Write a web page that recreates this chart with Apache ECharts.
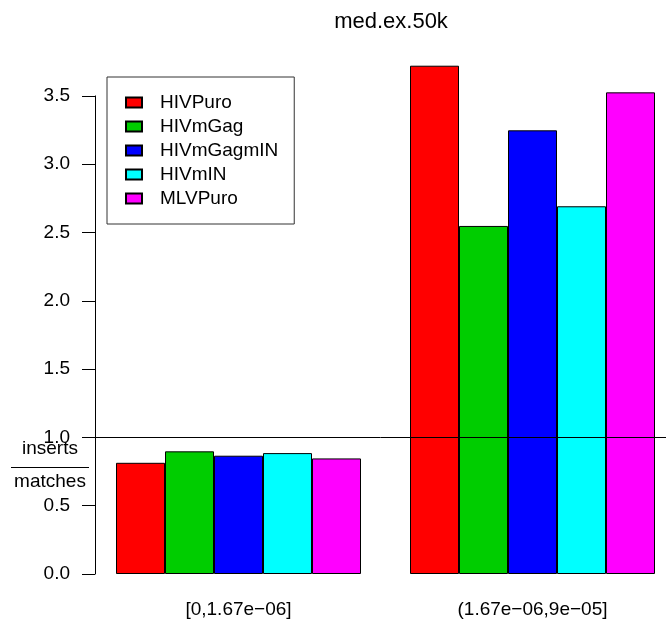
<!DOCTYPE html>
<html>
<head>
<meta charset="utf-8">
<script src="https://cdn.jsdelivr.net/npm/echarts@6/dist/echarts.min.js"></script>
<style>html,body{margin:0;padding:0;background:#fff;}#c{width:666px;height:627px;}</style>
</head>
<body>
<div id="c"></div>
<script>
var categories = ['[0,1.67e\u221206]', '(1.67e\u221206,9e\u221205]'];
var seriesNames = ['HIVPuro', 'HIVmGag', 'HIVmGagmIN', 'HIVmIN', 'MLVPuro'];
var seriesColors = ['#FF0000', '#00CD00', '#0000FF', '#00FFFF', '#FF00FF'];
var HIVPuro = [0.814, 3.721];
var HIVmGag = [0.898, 2.548];
var HIVmGagmIN = [0.866, 3.248];
var HIVmIN = [0.885, 2.692];
var MLVPuro = [0.846, 3.526];
var seriesValues = [HIVPuro, HIVmGag, HIVmGagmIN, HIVmIN, MLVPuro];
var yTicks = [0, 0.5, 1.0, 1.5, 2.0, 2.5, 3.0, 3.5];
var refLine = 1.0;
var chartTitle = 'med.ex.50k';

var FONT = '"Liberation Sans", Arial, Helvetica, sans-serif';
var k = 136.6;       // px per unit
var zeroY = 574;
var yMaxAxis = yTicks[yTicks.length - 1];
var yMaxMain = 4;

var chart = echarts.init(document.getElementById('c'), null, {renderer: 'canvas'});

var series = seriesNames.map(function (n, i) {
  return {
    name: n,
    type: 'bar',
    xAxisIndex: 0,
    yAxisIndex: 0,
    data: seriesValues[i],
    barWidth: 49,
    barGap: '0%',
    clip: false,
    itemStyle: {color: seriesColors[i], borderColor: '#000', borderWidth: 1},
    emphasis: {disabled: true}
  };
});
// reference line at 1.0, drawn across the full plot region (axis grid)
series.push({
  type: 'line',
  xAxisIndex: 1,
  yAxisIndex: 1,
  data: [],
  silent: true,
  markLine: {
    silent: true,
    symbol: ['none', 'none'],
    label: {show: false},
    lineStyle: {color: '#000', width: 1, type: 'solid'},
    data: [{yAxis: refLine}]
  }
});

var option = {
  animation: false,
  backgroundColor: '#fff',
  textStyle: {fontFamily: FONT},
  title: {
    text: chartTitle,
    left: 386,
    top: 6,
    textAlign: 'center',
    textStyle: {fontFamily: FONT, fontSize: 22, fontWeight: 'normal', color: '#000'}
  },
  legend: {
    orient: 'vertical',
    left: 107,
    top: 77,
    padding: [16, 16, 16, 18],
    itemWidth: 16,
    itemHeight: 10,
    itemGap: 5,
    icon: 'rect',
    borderColor: '#333',
    borderWidth: 1,
    selectedMode: false,
    textStyle: {fontFamily: FONT, fontSize: 19, color: '#000', lineHeight: 19, padding: [0, 0, 0, 13]},
    data: seriesNames
  },
  grid: [
    {left: 238.5, width: 294, top: zeroY - yMaxMain * k, height: yMaxMain * k, containLabel: false},
    {left: 95, right: 0, top: zeroY - yMaxAxis * k, height: yMaxAxis * k, containLabel: false}
  ],
  xAxis: [
    {
      type: 'category', gridIndex: 0, data: categories, boundaryGap: false,
      axisLine: {show: false}, axisTick: {show: false},
      axisLabel: {fontFamily: FONT, fontSize: 19, color: '#000', margin: 26}
    },
    {type: 'value', gridIndex: 1, min: 0, max: 1, show: false}
  ],
  yAxis: [
    {type: 'value', gridIndex: 0, min: 0, max: yMaxMain, show: false, splitLine: {show: false}},
    {
      type: 'value', gridIndex: 1, min: 0, max: yMaxAxis, interval: 0.5,
      axisLine: {show: true, lineStyle: {color: '#000', width: 1}},
      axisTick: {show: true, length: 13, lineStyle: {color: '#000'}},
      splitLine: {show: false},
      axisLabel: {
        fontFamily: FONT, fontSize: 19, color: '#000', margin: 25,
        formatter: function (v) { return v.toFixed(1); }
      }
    }
  ],
  graphic: [
    {type: 'text', x: 50, y: 449, style: {text: 'inserts', fill: '#000', font: '19px ' + FONT, textAlign: 'center', textVerticalAlign: 'middle'}},
    {type: 'line', shape: {x1: 11, y1: 467.5, x2: 89, y2: 467.5}, style: {stroke: '#000', lineWidth: 1}},
    {type: 'text', x: 50, y: 482, style: {text: 'matches', fill: '#000', font: '19px ' + FONT, textAlign: 'center', textVerticalAlign: 'middle'}}
  ],
  series: series
};
chart.setOption(option);
</script>
</body>
</html>
